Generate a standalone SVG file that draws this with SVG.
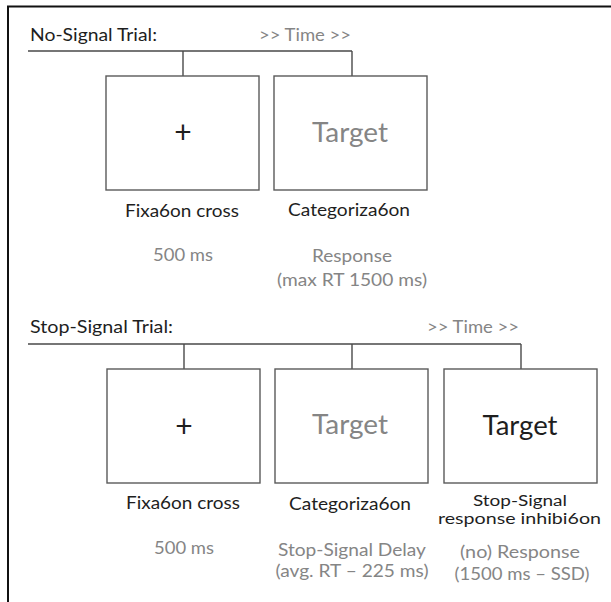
<svg xmlns="http://www.w3.org/2000/svg" width="611" height="602" viewBox="0 0 611 602">
<style>
text{font-family:Lato,"Liberation Sans",sans-serif;text-anchor:middle;font-size:17px;}
.k{fill:#1e1e1e;}
.g{fill:#858585;}
.big{font-size:26px;}
.plus{font-size:30px;}
.sm{font-size:15.5px;}
.l{text-anchor:start;}
.box{fill:#fff;stroke:#5a5a5a;stroke-width:1.4;}
.con{fill:none;stroke:#4a4a4a;stroke-width:1.4;}
.frame{fill:none;stroke:#111;stroke-width:2;}
</style>
<rect width="611" height="602" fill="#fff"/>
<path class="frame" d="M8,602 V6.5 H611"/>

<g id="connectors">
<path class="con" d="M28,51 H352 M183,51 V76 M352,51 V76"/>
<path class="con" d="M28,344 H521 M184,344 V369 M352,344 V369 M521,344 V369"/>
</g>

<g id="title-nosignal">
<text class="k l" x="30" y="41" textLength="127" lengthAdjust="spacingAndGlyphs">No-Signal Trial:</text>
<text class="g" x="305" y="41" textLength="92" lengthAdjust="spacingAndGlyphs">&gt;&gt; Time &gt;&gt;</text>
</g>

<g id="ns-fixation">
<rect class="box" x="106" y="76" width="153" height="114"/>
<text class="k plus" x="183" y="143">+</text>
<text class="k" x="182" y="217" textLength="114" lengthAdjust="spacingAndGlyphs">Fixa6on cross</text>
<text class="g" x="183" y="261" textLength="60" lengthAdjust="spacingAndGlyphs">500 ms</text>
</g>

<g id="ns-categorization">
<rect class="box" x="274" y="76" width="153" height="114"/>
<text class="g big" x="350" y="142" textLength="76" lengthAdjust="spacingAndGlyphs">Target</text>
<text class="k" x="349" y="216" textLength="122" lengthAdjust="spacingAndGlyphs">Categoriza6on</text>
<text class="g" x="352" y="262" textLength="80" lengthAdjust="spacingAndGlyphs">Response</text>
<text class="g" x="352" y="286" textLength="150" lengthAdjust="spacingAndGlyphs">(max RT 1500 ms)</text>
</g>

<g id="title-stopsignal">
<text class="k l" x="30" y="333" textLength="143" lengthAdjust="spacingAndGlyphs">Stop-Signal Trial:</text>
<text class="g" x="473" y="333" textLength="92" lengthAdjust="spacingAndGlyphs">&gt;&gt; Time &gt;&gt;</text>
</g>

<g id="ss-fixation">
<rect class="box" x="107" y="369" width="153" height="114"/>
<text class="k plus" x="184" y="437">+</text>
<text class="k" x="183" y="509" textLength="114" lengthAdjust="spacingAndGlyphs">Fixa6on cross</text>
<text class="g" x="184" y="554" textLength="60" lengthAdjust="spacingAndGlyphs">500 ms</text>
</g>

<g id="ss-categorization">
<rect class="box" x="275" y="369" width="153" height="114"/>
<text class="g big" x="350" y="434" textLength="76" lengthAdjust="spacingAndGlyphs">Target</text>
<text class="k" x="350" y="510" textLength="122" lengthAdjust="spacingAndGlyphs">Categoriza6on</text>
<text class="g" x="352" y="556" textLength="148" lengthAdjust="spacingAndGlyphs">Stop-Signal Delay</text>
<text class="g" x="352" y="577" textLength="153" lengthAdjust="spacingAndGlyphs">(avg. RT – 225 ms)</text>
</g>

<g id="ss-inhibition">
<rect class="box" x="444" y="369" width="153" height="114"/>
<text class="k big" x="520" y="435" textLength="75" lengthAdjust="spacingAndGlyphs">Target</text>
<text class="k sm" x="520" y="506" textLength="94" lengthAdjust="spacingAndGlyphs">Stop-Signal</text>
<text class="k sm" x="519.5" y="524" textLength="163" lengthAdjust="spacingAndGlyphs">response inhibi6on</text>
<text class="g" x="520" y="558" textLength="120" lengthAdjust="spacingAndGlyphs">(no) Response</text>
<text class="g" x="522" y="580" textLength="135" lengthAdjust="spacingAndGlyphs">(1500 ms – SSD)</text>
</g>
</svg>
